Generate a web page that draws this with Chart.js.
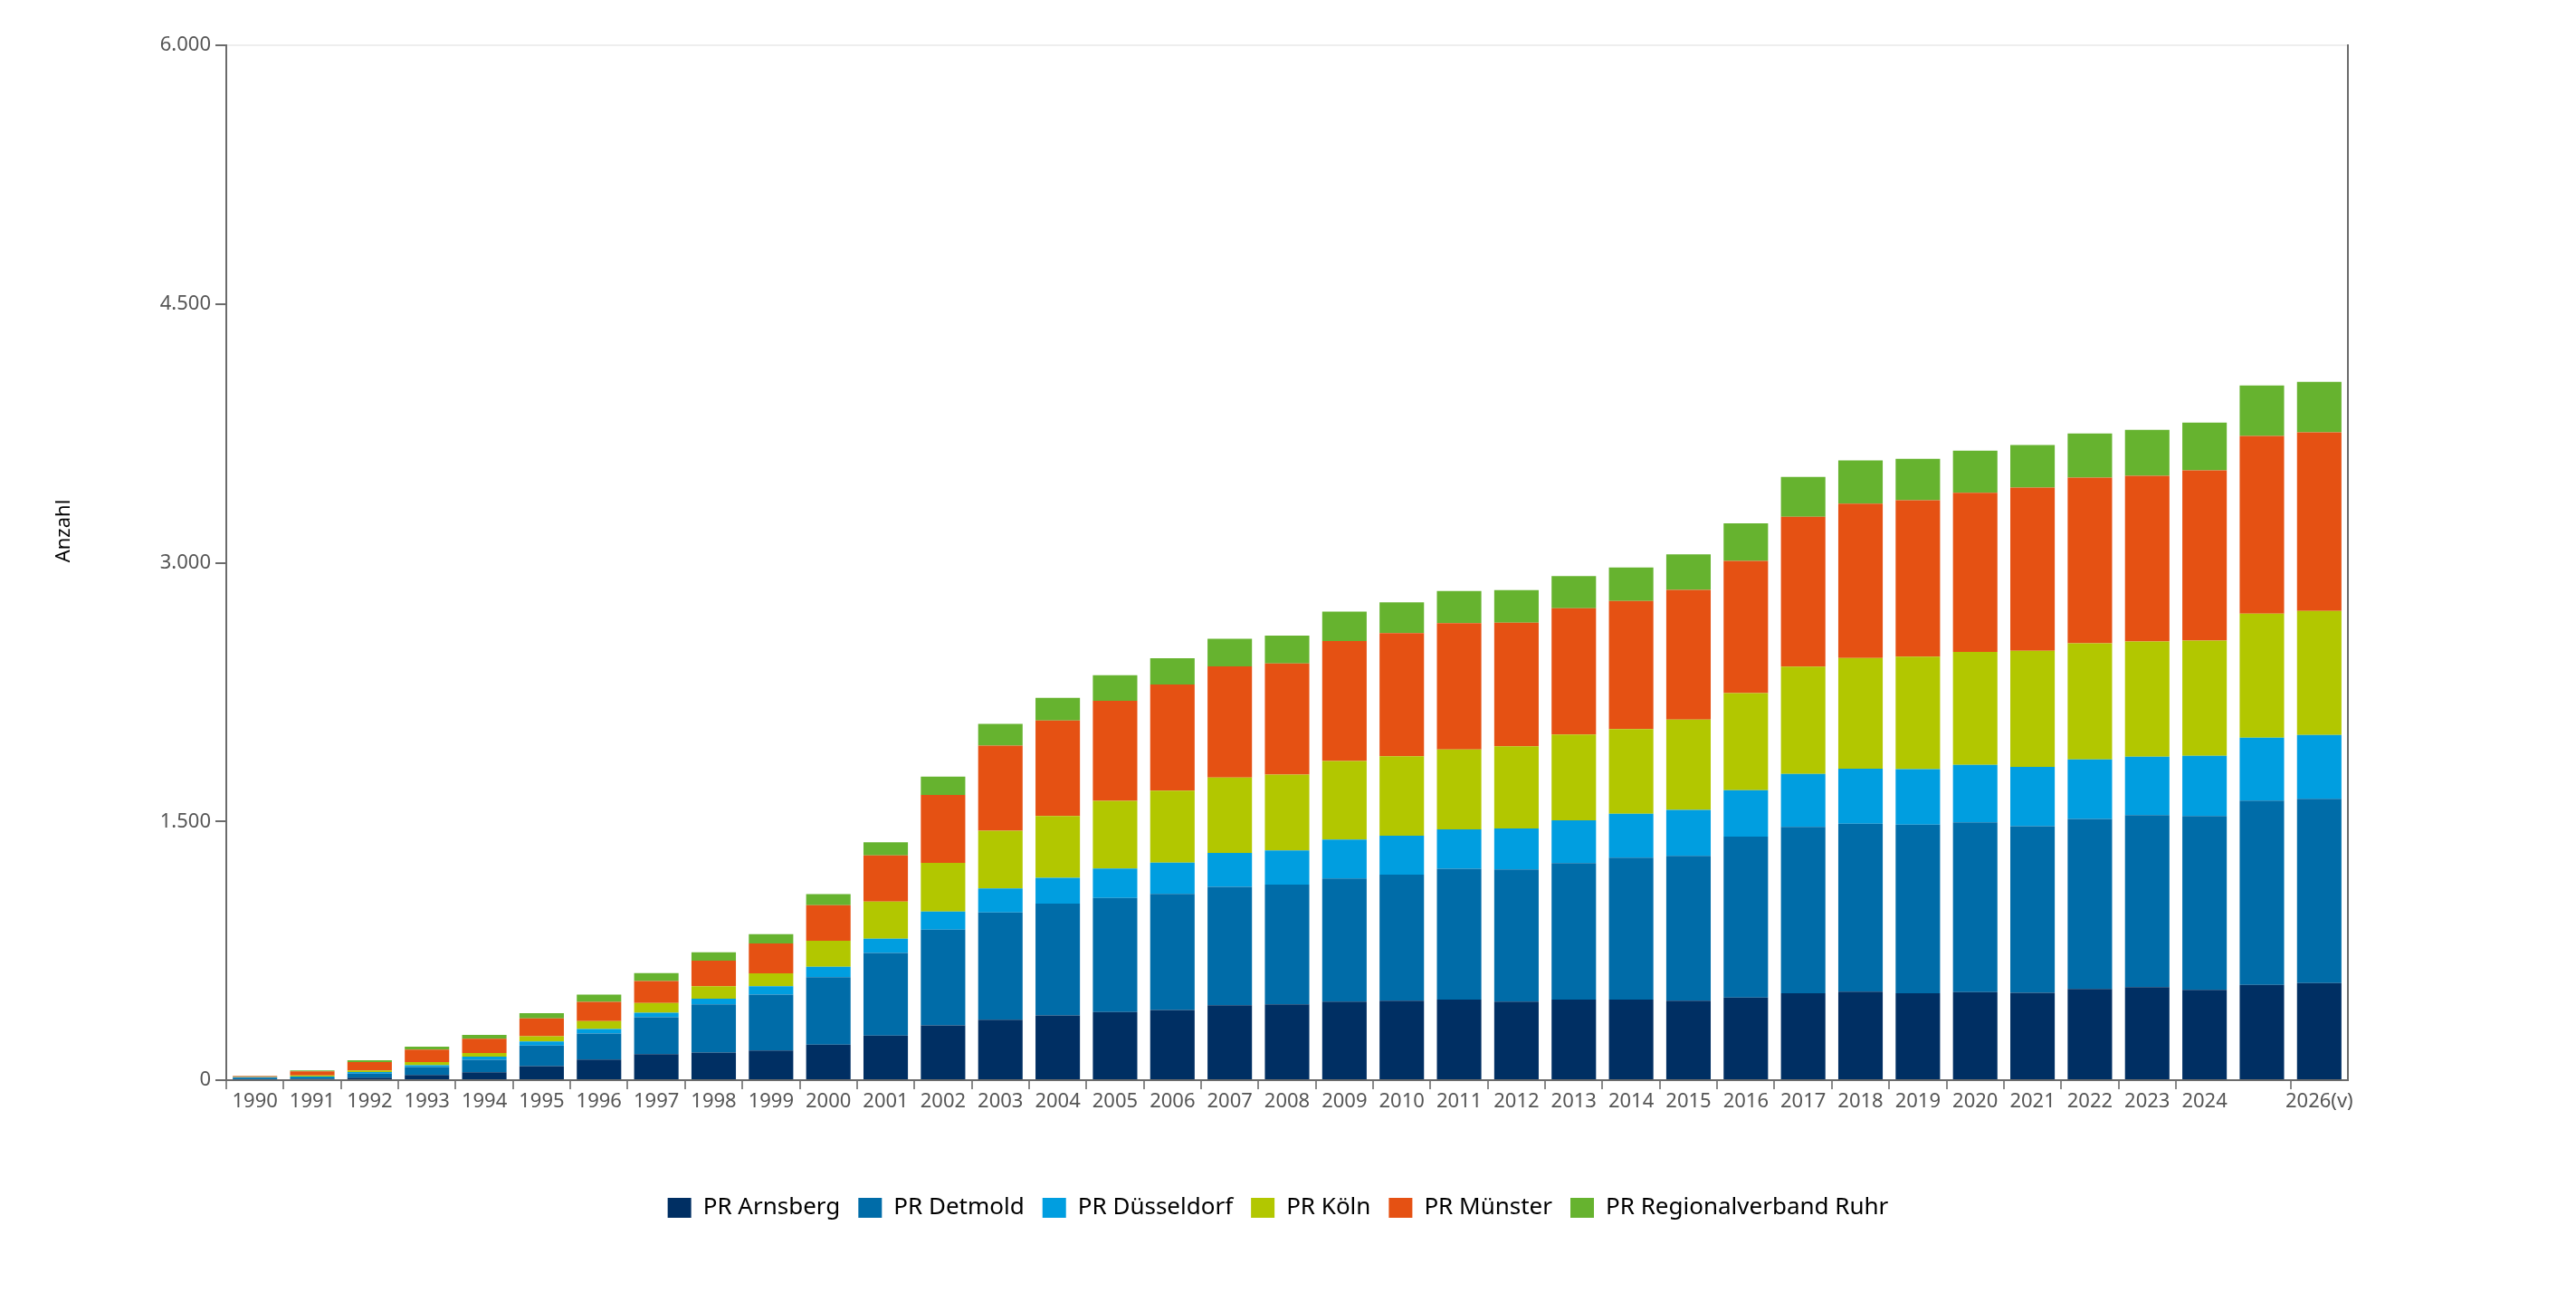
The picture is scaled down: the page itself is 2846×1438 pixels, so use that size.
<!DOCTYPE html>
<html lang="de">
<head>
<meta charset="utf-8">
<title>Anzahl nach Planungsregion</title>
<script src="https://cdn.jsdelivr.net/npm/chart.js@4.4.1/dist/chart.umd.min.js"></script>
<style>
    html, body { margin: 0; padding: 0; background: #fff; }
    #wrap { width: 2846px; height: 1438px; position: relative; }
</style>
</head>
<body>
<div id="wrap"><canvas id="chart"></canvas></div>
<script>
// Jahre (2025 ohne Beschriftung, 2026 vorläufig)
const years = ['1990', '1991', '1992', '1993', '1994', '1995', '1996', '1997', '1998', '1999',
    '2000', '2001', '2002', '2003', '2004', '2005', '2006', '2007', '2008', '2009',
    '2010', '2011', '2012', '2013', '2014', '2015', '2016', '2017', '2018', '2019',
    '2020', '2021', '2022', '2023', '2024', '', '2026(v)'];

// Werte je Planungsregion
const arnsberg = [5, 6, 14, 30, 46, 82, 119, 151, 160, 172,
    206, 259, 317, 350, 375, 395, 407, 434, 440, 455,
    461, 467, 456, 467, 467, 461, 479, 504, 513, 504,
    510, 507, 529, 539, 523, 553, 563];
const detmold = [10, 10, 24, 46, 72, 119, 151, 214, 279, 324,
    391, 479, 556, 623, 648, 661, 673, 687, 694, 714,
    730, 759, 766, 791, 823, 839, 933, 964, 974, 977,
    985, 966, 985, 998, 1009, 1068, 1068];
const duesseldorf = [2, 5, 9, 10, 19, 23, 26, 26, 33, 49,
    60, 82, 105, 138, 150, 171, 181, 196, 198, 226,
    226, 228, 237, 249, 255, 267, 269, 308, 319, 322,
    333, 343, 346, 338, 349, 365, 370];
const koeln = [2, 6, 9, 19, 21, 31, 46, 56, 72, 75,
    152, 216, 282, 335, 358, 393, 418, 438, 440, 455,
    461, 463, 477, 497, 490, 524, 563, 622, 641, 652,
    655, 673, 673, 668, 668, 719, 719];
const muenster = [5, 24, 49, 72, 82, 103, 112, 128, 149, 172,
    206, 267, 393, 494, 554, 580, 615, 644, 644, 696,
    714, 732, 716, 732, 743, 752, 766, 869, 896, 907,
    923, 947, 961, 961, 987, 1030, 1036];
const ruhr = [1, 6, 10, 17, 23, 31, 42, 46, 49, 54,
    64, 76, 107, 126, 132, 148, 152, 160, 161, 171,
    178, 187, 189, 187, 194, 205, 219, 230, 250, 241,
    244, 247, 255, 266, 276, 292, 292];

const yTicks = [0, 1500, 3000, 4500, 6000];

const seriesNames = ['PR Arnsberg', 'PR Detmold', 'PR Düsseldorf', 'PR Köln', 'PR Münster', 'PR Regionalverband Ruhr'];
const seriesData = [arnsberg, detmold, duesseldorf, koeln, muenster, ruhr];
const seriesColors = ['#002f63', '#006ca8', '#009ee0', '#b2c700', '#e55113', '#66b32f'];

const FONT = "'Noto Sans', 'Open Sans', sans-serif";
const AXIS_GREY = '#6b6b6b';

// Tausenderpunkt wie im Original
function formatNumber(v) {
    return String(v).replace(/\B(?=(\d{3})+(?!\d))/g, '.');
}

// Achsentitel links, etwas oberhalb der Mitte wie im Original
const yTitlePlugin = {
    id: 'yTitle',
    afterDraw(chart) {
        const { ctx, chartArea } = chart;
        const midY = (chartArea.top + chartArea.bottom) / 2 - 35;
        ctx.save();
        ctx.translate(71, midY);
        ctx.rotate(-Math.PI / 2);
        ctx.fillStyle = '#000';
        ctx.font = '22px ' + FONT;
        ctx.textAlign = 'center';
        ctx.textBaseline = 'middle';
        ctx.fillText('Anzahl', 0, 0);
        ctx.restore();
    }
};

const datasets = seriesNames.map((name, i) => ({
    label: name,
    data: seriesData[i],
    backgroundColor: seriesColors[i],
    borderWidth: 0,
    categoryPercentage: 1,
    barPercentage: 0.775
}));

new Chart(document.getElementById('chart'), {
    type: 'bar',
    data: {
        labels: years,
        datasets: datasets
    },
    plugins: [yTitlePlugin],
    options: {
        responsive: true,
        maintainAspectRatio: false,
        devicePixelRatio: 1,
        animation: false,
        layout: {
            padding: { top: 50, left: 0, right: 22, bottom: 81 }
        },
        plugins: {
            tooltip: { enabled: false },
            legend: {
                position: 'bottom',
                labels: {
                    color: '#000',
                    boxWidth: 26,
                    boxHeight: 22,
                    padding: 20,
                    font: { family: FONT, size: 26 }
                }
            }
        },
        scales: {
            x: {
                stacked: true,
                grid: {
                    drawOnChartArea: false,
                    tickLength: 10,
                    lineWidth: 2,
                    color: AXIS_GREY,
                    tickColor: (ctx) => years[ctx.index] ? '#8a8a8a' : 'rgba(0,0,0,0)'
                },
                border: { color: AXIS_GREY, width: 2 },
                ticks: {
                    autoSkip: false,
                    maxRotation: 0,
                    padding: 1,
                    color: '#555',
                    font: { family: FONT, size: 22 }
                },
                afterFit: (scale) => { scale.height = 108; }
            },
            y: {
                stacked: true,
                min: 0,
                max: 6000,
                afterBuildTicks: (scale) => {
                    scale.ticks = yTicks.map(v => ({ value: v }));
                },
                grid: {
                    color: (ctx) => ctx.tick && ctx.tick.value === 6000 ? '#eeeeee' : 'rgba(0,0,0,0)',
                    tickColor: AXIS_GREY,
                    tickLength: 12,
                    lineWidth: 2
                },
                border: { color: AXIS_GREY, width: 2 },
                ticks: {
                    padding: 5,
                    color: '#555',
                    font: { family: FONT, size: 22 },
                    callback: (value) => formatNumber(value)
                },
                afterFit: (scale) => { scale.width = 250; }
            },
            yRight: {
                type: 'linear',
                position: 'right',
                min: 0,
                max: 6000,
                grid: { display: false },
                ticks: { display: false },
                border: { display: true, color: AXIS_GREY, width: 2 },
                afterFit: (scale) => { scale.width = 230; }
            }
        }
    }
});
</script>
</body>
</html>
